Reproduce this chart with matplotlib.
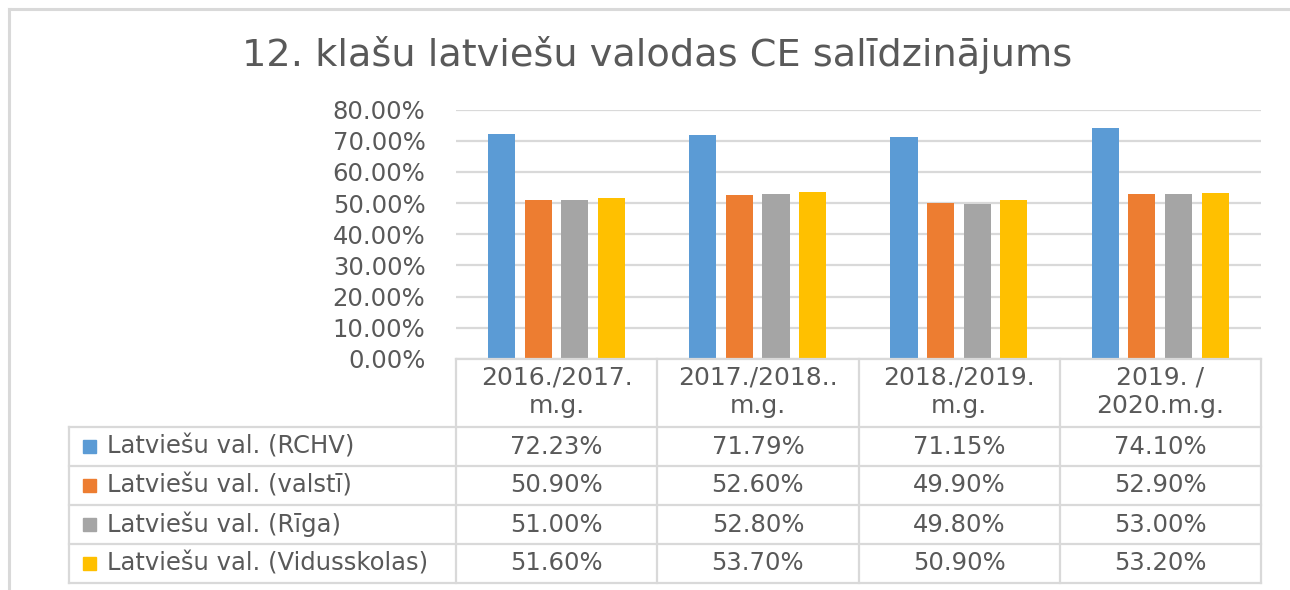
import matplotlib
matplotlib.use('Agg')
import matplotlib.pyplot as plt
from matplotlib.transforms import blended_transform_factory
from matplotlib.patches import Rectangle
import numpy as np

# data
years = ['2016./2017.\nm.g.', '2017./2018..\nm.g.', '2018./2019.\nm.g.', '2019. /\n2020.m.g.']
series = ['Latviešu val. (RCHV)', 'Latviešu val. (valstī)',
          'Latviešu val. (Rīga)', 'Latviešu val. (Vidusskolas)']
rchv = [72.23, 71.79, 71.15, 74.10]
valsti = [50.90, 52.60, 49.90, 52.90]
riga = [51.00, 52.80, 49.80, 53.00]
vidusskolas = [51.60, 53.70, 50.90, 53.20]
colors = ['#5b9bd5', '#ed7d31', '#a5a5a5', '#ffc000']

plt.rcParams['font.family'] = ['DejaVu Sans']
txt = '#595959'
grid = '#d9d9d9'

W, H = 1290, 590
def fy(p):
    return 1 - p / H
def fx(p):
    return p / W

fig = plt.figure(figsize=(W / 100, H / 100), dpi=100)
ax = fig.add_axes([fx(456), fy(359), fx(1261) - fx(456), fy(109.5) - fy(359)])

values = [rchv, valsti, riga, vidusskolas]
x = np.arange(len(years))
offsets = [-0.274, -0.092, 0.09, 0.272]
for vals, off, c in zip(values, offsets, colors):
    ax.bar(x + off, vals, width=0.135, color=c, zorder=3)

ax.set_xlim(-0.5, 3.5)
ax.set_ylim(0, 80)
yt = np.arange(0, 81, 10)
ax.set_yticks(yt)
ax.set_yticklabels([f'{v:.2f}%' for v in yt], color=txt, fontsize=17.5)
ax.tick_params(axis='y', length=0, pad=22)
ax.set_xticks([])
ax.grid(axis='y', color=grid, lw=1.6, zorder=0)
for s in ax.spines.values():
    s.set_visible(False)

# title
fig.text(fx(657), fy(55), '12. klašu latviešu valodas CE salīdzinājums',
         ha='center', va='center', fontsize=27.5, color=txt)

# data table under the axis
bt = blended_transform_factory(ax.transData, fig.transFigure)
rows_y = [359, 427, 466, 505, 544, 583]
lw = 1.6
fig.add_artist(plt.Line2D([fx(456), fx(1261)], [fy(359), fy(359)], color=grid, lw=lw))
for yy in rows_y[1:]:
    fig.add_artist(plt.Line2D([fx(69), fx(1261)], [fy(yy), fy(yy)], color=grid, lw=lw))
fig.add_artist(plt.Line2D([fx(69), fx(69)], [fy(427), fy(583)], color=grid, lw=lw))
fig.add_artist(plt.Line2D([fx(456), fx(456)], [fy(359), fy(583)], color=grid, lw=lw))
for xe in [0.5, 1.5, 2.5, 3.5]:
    ax.add_artist(plt.Line2D([xe, xe], [fy(359), fy(583)], color=grid, lw=lw,
                             transform=bt, clip_on=False))

# header
for i, yr in enumerate(years):
    ax.text(i, fy(392), yr, transform=bt, ha='center', va='center',
            fontsize=18, color=txt, linespacing=1.25, clip_on=False)

# rows
for r, (name, vals, c) in enumerate(zip(series, values, colors)):
    yc = (rows_y[r + 1] + rows_y[r + 2]) / 2
    fig.add_artist(Rectangle((fx(83), fy(yc + 6.5)), fx(13), fy(yc - 6.5) - fy(yc + 6.5),
                             color=c, transform=fig.transFigure))
    fig.text(fx(107), fy(yc), name, ha='left', va='center', fontsize=17.5, color=txt)
    for i, v in enumerate(vals):
        ax.text(i, fy(yc), f'{v:.2f}%', transform=bt, ha='center', va='center',
                fontsize=17.5, color=txt, clip_on=False)

# outer frame
fig.add_artist(plt.Line2D([fx(9), 1], [fy(9), fy(9)], color=grid, lw=2.2))
fig.add_artist(plt.Line2D([fx(9), fx(9)], [fy(9), 0], color=grid, lw=2.2))

fig.savefig('out.png', dpi=100)
